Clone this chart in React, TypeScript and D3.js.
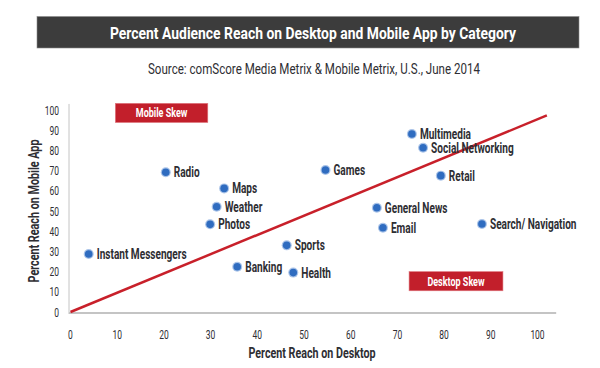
import React, { useEffect, useRef } from 'react';
import * as d3 from 'd3';

const categories = [
  'Radio', 'Maps', 'Weather', 'Photos', 'Instant Messengers', 'Banking', 'Sports', 'Health',
  'Multimedia', 'Social Networking', 'Games', 'Retail', 'General News', 'Email', 'Search/ Navigation',
];
const desktopReach = [20.4, 32.9, 31.3, 29.9, 3.9, 35.7, 46.3, 47.7, 73.1, 75.5, 54.6, 79.3, 65.6, 66.9, 88.1];
const mobileReach = [69.2, 61.2, 52.1, 43.4, 28.7, 22.4, 33, 19.5, 88.1, 81.3, 70.3, 67.5, 51.6, 41.7, 43.6];
const tickValues = [0, 10, 20, 30, 40, 50, 60, 70, 80, 90, 100];
const parityLine = [[0, 0], [102, 97.3]];

const font = 'Roboto, "Liberation Sans", Arial, sans-serif';
const textColor = '#2e2e33';

// squeeze text horizontally to mimic the condensed face of the original
function condense(sel: any, k: number) {
  sel.each(function (this: SVGTextElement) {
    const w = this.getComputedTextLength();
    d3.select(this).attr('textLength', w * k).attr('lengthAdjust', 'spacingAndGlyphs');
  });
}
function fitTo(sel: any, w: number) {
  sel.attr('textLength', w).attr('lengthAdjust', 'spacingAndGlyphs');
}

function App() {
  const ref = useRef<SVGSVGElement>(null);

  useEffect(() => {
    const svg = d3.select(ref.current);
    svg.selectAll('*').remove();

    const x = d3.scaleLinear().domain([0, 100]).range([70.5, 537.5]);
    const y = d3.scaleLinear().domain([0, 100]).range([312, 110]);

    // title bar
    svg.append('rect')
      .attr('x', 37).attr('y', 16.5).attr('width', 542).attr('height', 31.5)
      .attr('fill', '#3c3c3c').attr('stroke', '#8a8a8a').attr('stroke-width', 0.6);
    fitTo(svg.append('text')
      .attr('x', 313).attr('y', 38.5)
      .attr('text-anchor', 'middle')
      .style('font-family', font).style('font-weight', 'bold').style('font-size', '16.5px')
      .attr('fill', '#fff')
      .text('Percent Audience Reach on Desktop and Mobile App by Category'), 406);
    fitTo(svg.append('text')
      .attr('x', 314).attr('y', 74)
      .attr('text-anchor', 'middle')
      .style('font-family', font).style('font-size', '14px')
      .attr('fill', textColor)
      .text('Source: comScore Media Metrix & Mobile Metrix, U.S., June 2014'), 332);

    // axes
    svg.append('line')
      .attr('x1', x(0) - 1.5).attr('x2', x(0) - 1.5).attr('y1', y(103)).attr('y2', y(0))
      .attr('stroke', '#c4c4c4').attr('stroke-width', 1);
    svg.append('line')
      .attr('x1', x(0) - 2).attr('x2', x(104)).attr('y1', y(0) + 1).attr('y2', y(0) + 1)
      .attr('stroke', '#c4c4c4').attr('stroke-width', 2);

    condense(svg.append('g').selectAll('text').data(tickValues).enter().append('text')
      .attr('x', (d) => x(d)).attr('y', y(0) + 26.5)
      .attr('text-anchor', 'middle')
      .style('font-family', font).style('font-size', '13px').attr('fill', textColor)
      .text((d) => d), 0.65);
    condense(svg.append('g').selectAll('text').data(tickValues).enter().append('text')
      .attr('x', 59).attr('y', (d) => y(d) + 4.5)
      .attr('text-anchor', 'end')
      .style('font-family', font).style('font-size', '13px').attr('fill', textColor)
      .text((d) => d), 0.65);

    fitTo(svg.append('text')
      .attr('x', 312).attr('y', 358)
      .attr('text-anchor', 'middle')
      .style('font-family', font).style('font-weight', 'bold').style('font-size', '14px')
      .attr('fill', textColor)
      .text('Percent Reach on Desktop'), 127);
    fitTo(svg.append('text')
      .attr('transform', `translate(39, ${y(50)}) rotate(-90)`)
      .attr('text-anchor', 'middle')
      .style('font-family', font).style('font-weight', 'bold').style('font-size', '14px')
      .attr('fill', textColor)
      .text('Percent Reach on Mobile App'), 143);

    // parity line
    const line = d3.line<number[]>().x((d) => x(d[0])).y((d) => y(d[1]));
    svg.append('path')
      .attr('d', line(parityLine))
      .attr('fill', 'none').attr('stroke', '#c8202a').attr('stroke-width', 2.5);

    // skew boxes
    const boxes = [
      { label: 'Mobile Skew', x0: 9.6, x1: 29.4, y0: 103.3, y1: 93.8 },
      { label: 'Desktop Skew', x0: 72.5, x1: 92.6, y0: 20, y1: 10.5 },
    ];
    boxes.forEach((b) => {
      svg.append('rect')
        .attr('x', x(b.x0)).attr('y', y(b.y0))
        .attr('width', x(b.x1) - x(b.x0)).attr('height', y(b.y1) - y(b.y0))
        .attr('fill', '#c21f2b').attr('stroke', '#e07a80').attr('stroke-width', 0.6);
      condense(svg.append('text')
        .attr('x', (x(b.x0) + x(b.x1)) / 2).attr('y', (y(b.y0) + y(b.y1)) / 2 + 4.5)
        .attr('text-anchor', 'middle')
        .style('font-family', font).style('font-weight', 'bold').style('font-size', '12.5px')
        .attr('fill', '#fff')
        .text(b.label), 0.72);
    });

    // points
    const pts = svg.append('g').selectAll('g').data(categories).enter().append('g')
      .attr('transform', (_, i) => `translate(${x(desktopReach[i])}, ${y(mobileReach[i])})`);
    pts.append('circle').attr('r', 5).attr('fill', '#a9c3e8');
    pts.append('circle').attr('r', 3.8).attr('fill', '#2f6cc0');
    condense(pts.append('text')
      .attr('x', 8).attr('y', 5)
      .style('font-family', font).style('font-weight', 'bold').style('font-size', '14px')
      .attr('fill', textColor)
      .text((d) => d), 0.72);
  }, []);

  return (
    <svg
      ref={ref}
      width={600}
      height={368}
      style={{ position: 'absolute', left: 0, top: 0, background: '#fff' }}
    />
  );
}

export default App;
